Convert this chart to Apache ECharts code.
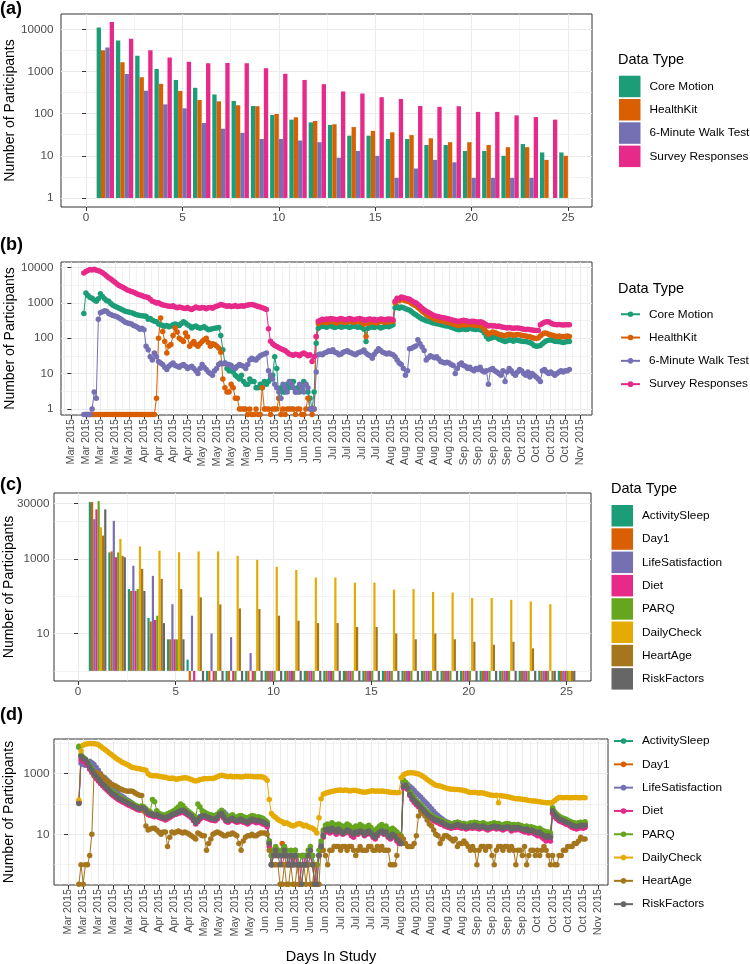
<!DOCTYPE html>
<html>
<head>
<meta charset="utf-8">
<script src="https://cdn.jsdelivr.net/npm/echarts@6.0.0/dist/echarts.min.js"></script>
<style>
html, body { margin: 0; padding: 0; background: #fff; }
#chart { width: 750px; height: 964px; }
</style>
</head>
<body>
<div id="chart"></div>
<script>
// ---------- panel (a): participants per day in study ----------
var aDays = [1, 2, 3, 4, 5, 6, 7, 8, 9, 10, 11, 12, 13, 14, 15, 16, 17, 18, 19, 20, 21, 22, 23, 24, 25];
var aCoreMotion = [11000, 5400, 2350, 1150, 630, 410, 285, 200, 152, 93, 72, 62, 54, 30, 30, 25, 25, 18, 18, 13, 13, 10, 19, 12, 12];
var aHealthKit = [3200, 1660, 730, 510, 345, 211, 196, 158, 150, 98, 82, 67, 56, 48, 39, 36, 31, 26, 21, 21, 18, 16, 16, 8, 10];
var aWalkTest = [3700, 870, 350, 166, 134, 60, 44, 35, 25, 25, 23, 21, 9, 13, 10, 3, 5, 8, 7, 3, 3, 3, 3, null, null];
var aSurvey = [15000, 6000, 3200, 2150, 1700, 1560, 1600, 1560, 1200, 880, 630, 500, 335, 300, 245, 223, 152, 145, 150, 110, 110, 91, 83, 72, null];

// ---------- panel (b): participants per calendar day ----------
// day numbers count from Mon 2 Mar 2015
var bStudyDays = [];
for (var d = 6; d <= 240; d++) bStudyDays.push(d);
var dStudyDays = [];
for (var e = 5; e <= 239; e++) dStudyDays.push(e);

var bCoreMotion = [
  500, 1900, 1600, 1400, 1350, 1200, 1100,
  1300, 1800, 1500, 1300, 1150, 1100, 950,
  850, 800, 750, 700, 660, 620, 580,
  560, 540, 520, 500, 470, 450, 440,
  430, 420, 415, 340, 360, 320, 300,
  290, 250, 240, 230, 218, 230, 210,
  220, 240, 250, 240, 230, 260, 290,
  270, 240, 220, 195, 210, 220, 200,
  190, 200, 210, 190, 174, 180, 185,
  190, 195, 200, 120, 47, 20, 14,
  12, 12, 11, 9, 8, 7, 9,
  6, 5, 5, 7, 6, 6, 4,
  4, 5, 4, 6, 5, 6, 7,
  9, 30, 14, 2, 4, 3, 3,
  5, 4, 6, 6, 3, 4, 3,
  4, 6, 5, 3, 2, 1, 3,
  72, 190, 210, 220, 215, 205, 220,
  225, 210, 200, 215, 220, 205, 210,
  220, 215, 200, 210, 225, 215, 205,
  210, 200, 180, 81, 190, 205, 210,
  200, 215, 210, 195, 205, 215, 220,
  210, 225, 240, 720, 780, 700, 760,
  720, 680, 650, 620, 560, 500, 460,
  415, 380, 350, 330, 310, 300, 285,
  275, 265, 255, 250, 240, 235, 225,
  220, 218, 205, 195, 185, 175, 173,
  180, 185, 175, 180, 190, 185, 180,
  175, 180, 173, 165, 140, 110, 95,
  100, 105, 112, 105, 95, 90, 85,
  81, 85, 90, 88, 82, 91, 88,
  85, 82, 80, 81, 78, 75, 70,
  62, 59, 60, 62, 70, 78, 85,
  88, 91, 86, 82, 80, 81, 78,
  76, 78, 80, 81
];
var bHealthKit = [
  null, 0, 0, 0, 0, 0, 0,
  0, 0, 0, 0, 0, 0, 0,
  0, 0, 0, 0, 0, 0, 0,
  0, 0, 0, 0, 0, 0, 0,
  0, 0, 0, 0, 0, 0, 0,
  2, 100, 370, 155, 81, 38, 60,
  66, 120, 195, 150, 100, 90, 80,
  140, 110, 59, 70, 80, 66, 59,
  70, 80, 90, 100, 75, 59, 70,
  66, 60, 53, 40, 7, 4, 3,
  3, 5, 4, 2, 2, 1, 1,
  1, 1, 0, 1, 0, 0, 1,
  0, 0, 4, 1, 1, 1, 0,
  1, 1, 1, 2, 0, 1, 0,
  1, 1, 1, 1, 0, 1, 1,
  0, 0, 1, 2, 1, 0, 1,
  110, 260, 280, 290, 280, 275, 290,
  300, 290, 280, 270, 290, 300, 285,
  280, 290, 300, 295, 280, 290, 300,
  290, 280, 250, 112, 260, 285, 290,
  280, 270, 285, 295, 290, 280, 285,
  290, 295, 300, 1000, 1200, 1150, 1250,
  1200, 1150, 1100, 1050, 950, 880, 820,
  740, 660, 580, 520, 470, 430, 400,
  370, 350, 330, 320, 310, 300, 290,
  285, 280, 260, 250, 240, 235, 230,
  240, 245, 235, 240, 245, 240, 235,
  230, 235, 225, 215, 180, 150, 130,
  140, 150, 145, 135, 130, 125, 120,
  118, 125, 130, 128, 120, 125, 128,
  125, 120, 118, 115, 112, 110, 105,
  100, 98, 102, 115, 130, 140, 138,
  130, 125, 120, 115, 110, 115, 112,
  110, 112, 115, 112
];
var bWalkTest = [
  0, 0, 0, 0, 1, 3, 2,
  340, 520, 560, 600, 580, 500, 470,
  440, 420, 400, 370, 340, 310, 280,
  270, 260, 250, 230, 218, 200, 180,
  190, 174, 59, 47, 30, 24, 38,
  30, 22, 20, 18, 15, 13, 16,
  18, 20, 17, 16, 15, 17, 18,
  16, 14, 15, 16, 14, 12, 10,
  14, 18, 15, 13, 11, 10, 9,
  12, 14, 18, 20, 19, 20, 18,
  18, 17, 15, 14, 16, 18, 17,
  16, 14, 18, 24, 27, 25, 24,
  28, 32, 34, 36, 38, 12, 9,
  7, 5, 4, 3, 2, 5, 4,
  3, 6, 5, 4, 3, 3, 5,
  4, 3, 5, 4, 1, 1, 1,
  11, 34, 36, 34, 38, 40, 44,
  42, 47, 40, 38, 34, 36, 40,
  42, 44, 40, 38, 36, 34, 38,
  40, 42, 46, 38, 34, 32, 27,
  35, 42, 50, 45, 40, 38, 36,
  38, 36, 34, 30, 24, 20, 18,
  14, 9, 12, 50, 52, 56, 60,
  91, 70, 56, 45, 24, 28, 32,
  30, 28, 30, 26, 22, 21, 20,
  21, 20, 18, 17, 10, 14, 18,
  20, 17, 16, 14, 15, 13, 12,
  14, 13, 15, 12, 11, 12, 5,
  13, 14, 12, 11, 10, 9, 12,
  6, 11, 14, 12, 10, 9, 11,
  13, 12, 10, 9, 11, 8, 10,
  9, 8, 7, 6, 12, 13, 11,
  10, 11, 10, 9, 10, 11, 12,
  11, 12, 12, 13
];
var bSurvey = [
  6900, 7600, 8200, 8700, 8500, 8800, 8300,
  8000, 7600, 7000, 6400, 5700, 5100, 4700,
  4200, 3800, 3400, 3100, 2900, 2700, 2500,
  2300, 2200, 2100, 2000, 1850, 1750, 1650,
  1600, 1500, 1450, 1400, 1250, 1100, 1050,
  980, 1000, 920, 870, 850, 820, 800,
  780, 820, 760, 720, 760, 740, 700,
  690, 740, 680, 650, 700, 760, 720,
  700, 740, 720, 680, 720, 740, 700,
  760, 800, 840, 900, 860, 820, 800,
  820, 780, 800, 840, 780, 800, 820,
  800, 840, 860, 880, 900, 860, 820,
  780, 760, 720, 690, 650, 185, 82,
  70, 62, 58, 54, 50, 47, 45,
  40, 36, 34, 33, 35, 34, 32,
  36, 38, 35, 32, 34, 22, 30,
  112, 300, 320, 340, 330, 350, 340,
  360, 350, 340, 330, 350, 360, 340,
  330, 340, 360, 350, 330, 340, 350,
  360, 340, 330, 320, 340, 350, 330,
  340, 320, 330, 350, 340, 330, 340,
  350, 340, 330, 1100, 1350, 1300, 1450,
  1400, 1350, 1300, 1250, 1150, 1050, 1000,
  900, 800, 700, 640, 580, 540, 500,
  460, 430, 415, 400, 390, 380, 370,
  360, 350, 330, 320, 310, 300, 300,
  310, 320, 310, 300, 290, 300, 300,
  290, 280, 290, 280, 260, 240, 220,
  230, 220, 225, 215, 220, 210, 205,
  200, 195, 200, 195, 190, 195, 195,
  190, 185, 180, 175, 178, 172, 170,
  168, 165, 165, 240, 260, 280, 290,
  290, 270, 250, 245, 240, 245, 240,
  235, 240, 238, 240
];

// ---------- panel (c): survey participants per day in study ----------
var cActivitySleep = [33000, 1480, 155, 26, 7, 2, 0, 0, 0, 0, 0, 0, 0, 0, 0, 0, 0, 0, 0, 0, 0, 0, 0, 0, 0];
var cDay1 = [33000, 1580, 138, 21, 7, 0, 0, 0, 0, 0, 0, 0, 0, 0, 0, 0, 0, 0, 0, 0, 0, 0, 0, 0, 0];
var cLifeSatisfaction = [11500, 10400, 650, 350, 61, 30, 10, 8, 3, 0, 0, 0, 0, 0, 0, 0, 0, 0, 0, 0, 0, 0, 0, 0, 0];
var cDiet = [21000, 1100, 138, 23, 7, 0, 0, 0, 0, 0, 0, 0, 0, 0, 0, 0, 0, 0, 0, 0, 0, 0, 0, 0, 0];
var cPARQ = [35000, 1480, 155, 30, 7, null, 0, 0, 0, 0, 0, 0, 0, 0, 0, 0, 0, 0, 0, 0, 0, 0, 0, 0, 0];
var cDailyCheck = [7000, 3400, 2150, 1650, 1500, 1580, 1580, 1200, 940, 610, 500, 315, 315, 230, 230, 150, 155, 130, 125, 89, 89, 80, 72, 61, 0];
var cHeartAge = [4200, 1200, 540, 290, 155, 93, 60, 47, 45, 30, 22, 19, 19, 15, 15, 10, 7, 10, 7, 6, 5, 6, 4, 0, 0];
var cRiskFactors = [21000, 1100, 138, 19, 7, 0, 0, 0, 0, 0, 0, 0, 0, 0, 0, 0, 0, 0, 0, 0, 0, 0, 0, 0, 0];

// ---------- panel (d): survey participants per calendar day ----------
var dActivitySleep = [
  7500, 3900, 3300, 3000, 2400, 1800, 1400,
  1050, 880, 720, 590, 470, 410, 350,
  300, 250, 220, 200, 170, 160, 140,
  130, 120, 110, 104, 95, 86, 80,
  74, 80, 76, 64, 54, 50, 47,
  44, 47, 42, 40, 38, 36, 40,
  42, 46, 50, 54, 58, 62, 64,
  60, 54, 47, 42, 34, 26, 32,
  38, 42, 44, 40, 38, 36, 35,
  34, 38, 48, 54, 40, 32, 30,
  34, 36, 32, 30, 32, 34, 30,
  29, 27, 30, 34, 32, 30, 31,
  29, 28, 26, 22, 5, 1, 3,
  2, 3, 2, 2, 3, 1, 2,
  1, 2, 2, 1, 1, 2, 1,
  2, 1, 2, 2, 0, 1, 2,
  4, 10, 15, 16, 14, 17, 15,
  13, 16, 14, 12, 13, 15, 14,
  12, 11, 13, 12, 14, 13, 11,
  13, 14, 12, 10, 9, 11, 13,
  14, 12, 13, 10, 9, 11, 10,
  8, 7, 6, 560, 470, 360, 230,
  175, 140, 118, 100, 86, 72, 60,
  50, 43, 38, 34, 31, 29, 27,
  25, 23, 21, 20, 19, 20, 21,
  22, 21, 19, 20, 18, 19, 20,
  19, 21, 20, 18, 19, 20, 18,
  17, 18, 19, 20, 18, 19, 18,
  17, 18, 19, 18, 16, 18, 17,
  18, 17, 16, 15, 16, 14, 15,
  14, 13, 12, 13, 11, 10, 9,
  10, 9, 66, 48, 40, 34, 32,
  30, 28, 26, 24, 22, 20, 19,
  20, 21, 20, 22
];
var dDay1 = [
  120, 3700, 3100, 2800, 2200, 1650, 1250,
  980, 800, 660, 540, 440, 380, 320,
  270, 230, 205, 185, 158, 146, 132,
  122, 112, 102, 95, 88, 80, 74,
  68, 74, 70, 58, 50, 47, 44,
  41, 44, 39, 37, 35, 33, 37,
  39, 43, 47, 50, 54, 58, 60,
  56, 50, 44, 39, 31, 24, 29,
  35, 39, 41, 37, 35, 33, 32,
  31, 35, 44, 49, 37, 29, 27,
  31, 33, 29, 27, 29, 31, 27,
  26, 24, 27, 31, 29, 27, 28,
  26, 25, 23, 20, 5, 2, 3,
  2, 3, 2, 5, 2, 1, 2,
  2, 1, 2, 1, 0, 1, 1,
  1, 2, 2, 1, 0, 1, 2,
  4, 9, 14, 15, 13, 16, 14,
  12, 15, 13, 11, 12, 14, 13,
  11, 10, 12, 11, 13, 12, 10,
  12, 13, 11, 9, 8, 10, 12,
  13, 11, 12, 9, 8, 10, 9,
  7, 6, 5, 600, 500, 380, 240,
  180, 145, 120, 100, 85, 70, 58,
  48, 42, 37, 33, 30, 28, 26,
  24, 22, 20, 19, 18, 19, 20,
  21, 20, 18, 19, 17, 18, 19,
  18, 20, 19, 17, 18, 19, 17,
  16, 17, 18, 19, 17, 18, 17,
  16, 17, 18, 17, 15, 17, 16,
  17, 16, 15, 14, 15, 13, 14,
  13, 12, 11, 12, 10, 9, 8,
  9, 8, 70, 50, 42, 36, 33,
  31, 28, 26, 24, 22, 21, 22,
  21, 22, 21, 23
];
var dLifeSatisfaction = [
  110, 2200, 2000, 1900, 2400, 2600, 2300,
  2000, 1600, 1300, 1000, 800, 740, 620,
  520, 450, 360, 290, 230, 200, 180,
  160, 140, 128, 115, 100, 90, 85,
  80, 82, 76, 62, 55, 50, 48,
  45, 44, 42, 40, 38, 36, 40,
  45, 50, 60, 58, 56, 62, 60,
  55, 50, 44, 40, 34, 30, 34,
  38, 42, 44, 42, 40, 38, 36,
  35, 40, 50, 60, 55, 46, 38,
  36, 38, 35, 33, 35, 36, 32,
  30, 28, 32, 36, 34, 32, 33,
  32, 30, 28, 24, 6, 2, 3,
  3, 2, 2, 3, 4, 2, 1,
  2, 1, 3, 2, 1, 1, 1,
  2, 2, 3, 2, 1, 0, 2,
  5, 12, 16, 17, 15, 18, 16,
  14, 17, 15, 13, 14, 16, 15,
  13, 12, 14, 13, 15, 14, 12,
  14, 15, 13, 11, 10, 12, 14,
  15, 13, 14, 11, 10, 12, 11,
  9, 8, 7, 500, 480, 440, 380,
  330, 280, 230, 200, 170, 140, 120,
  100, 85, 70, 58, 48, 42, 36,
  32, 28, 26, 24, 22, 23, 24,
  25, 23, 22, 23, 20, 21, 23,
  22, 24, 23, 21, 22, 23, 21,
  20, 21, 22, 23, 21, 22, 20,
  19, 21, 22, 21, 18, 20, 19,
  20, 19, 18, 17, 18, 16, 17,
  16, 15, 14, 15, 13, 12, 11,
  11, 10, 50, 40, 34, 30, 27,
  26, 24, 22, 21, 19, 18, 17,
  18, 19, 18, 19
];
var dDiet = [
  110, 2900, 2600, 2300, 1900, 1400, 1100,
  850, 700, 580, 480, 400, 340, 290,
  250, 210, 185, 165, 145, 130, 120,
  110, 100, 92, 86, 78, 72, 66,
  62, 66, 62, 52, 45, 42, 40,
  38, 40, 36, 34, 32, 30, 33,
  36, 40, 44, 46, 50, 52, 55,
  50, 45, 40, 35, 28, 22, 26,
  32, 36, 38, 34, 32, 30, 29,
  28, 32, 40, 44, 34, 27, 25,
  28, 30, 27, 25, 26, 28, 25,
  24, 22, 25, 28, 26, 24, 25,
  24, 22, 21, 18, 4, 1, 2,
  2, 3, 2, 1, 2, 3, 1,
  1, 2, 1, 2, 0, 1, 2,
  1, 1, 2, 1, 0, 1, 2,
  3, 8, 12, 13, 11, 14, 12,
  10, 13, 11, 10, 11, 12, 11,
  9, 8, 11, 10, 12, 11, 9,
  10, 11, 10, 8, 7, 9, 11,
  12, 10, 11, 8, 7, 9, 8,
  6, 5, 5, 340, 380, 300, 190,
  140, 115, 95, 82, 70, 58, 48,
  40, 35, 32, 28, 26, 24, 22,
  21, 19, 18, 17, 16, 17, 17,
  18, 17, 16, 17, 15, 16, 17,
  16, 17, 16, 15, 16, 17, 15,
  14, 15, 16, 17, 15, 16, 15,
  14, 15, 16, 15, 13, 15, 14,
  15, 14, 13, 12, 13, 11, 12,
  11, 10, 9, 10, 8, 7, 6,
  7, 6, 50, 38, 32, 28, 26,
  24, 22, 21, 19, 17, 16, 15,
  16, 17, 16, 17
];
var dPARQ = [
  8100, 4200, 3500, 3000, 2500, 1900, 1500,
  1150, 950, 760, 620, 500, 430, 370,
  320, 270, 240, 215, 185, 170, 150,
  140, 130, 120, 112, 100, 92, 85,
  80, 86, 82, 70, 60, 56, 140,
  120, 60, 50, 46, 44, 42, 48,
  52, 56, 60, 70, 80, 100, 90,
  72, 62, 55, 48, 42, 36, 100,
  80, 60, 55, 50, 46, 44, 42,
  42, 46, 55, 62, 50, 40, 38,
  40, 44, 38, 36, 40, 42, 38,
  36, 34, 38, 42, 40, 36, 38,
  36, 34, 30, 26, 6, 2, 3,
  4, 3, 2, 3, 4, 3, 2,
  3, 2, 3, 2, 1, 2, 2,
  2, 3, 4, 2, 1, 1, 3,
  6, 14, 20, 22, 19, 24, 21,
  18, 22, 20, 17, 19, 22, 20,
  17, 16, 19, 18, 21, 19, 15,
  18, 20, 17, 14, 13, 16, 19,
  21, 18, 19, 15, 13, 16, 14,
  12, 10, 9, 620, 520, 400, 260,
  200, 160, 130, 110, 95, 80, 66,
  56, 48, 42, 38, 34, 32, 30,
  28, 26, 24, 23, 22, 23, 24,
  25, 24, 22, 23, 21, 22, 24,
  23, 25, 24, 22, 23, 24, 22,
  21, 22, 23, 24, 22, 23, 21,
  20, 22, 23, 22, 19, 21, 20,
  21, 20, 19, 18, 19, 17, 18,
  17, 16, 15, 16, 14, 13, 12,
  12, 11, 76, 55, 46, 40, 36,
  34, 32, 29, 27, 25, 24, 23,
  24, 25, 24, 26
];
var dDailyCheck = [
  135, 5600, 8700, 9400, 9800, 10000, 10000,
  9800, 9600, 9000, 8000, 7000, 6300, 5600,
  4800, 4300, 3800, 3300, 2950, 2700, 2400,
  2200, 2050, 1900, 1700, 1600, 1550, 1480,
  1450, 1400, 1350, 1300, 1000, 890, 860,
  850, 860, 820, 800, 780, 760, 720,
  690, 720, 700, 660, 680, 700, 720,
  740, 720, 680, 640, 600, 575, 600,
  640, 660, 690, 680, 700, 690, 700,
  740, 800, 850, 890, 860, 820, 800,
  820, 800, 790, 810, 800, 780, 800,
  820, 830, 830, 810, 800, 790, 800,
  790, 780, 720, 610, 140, 49, 40,
  36, 31, 28, 26, 23, 24, 22,
  20, 19, 20, 22, 23, 21, 19,
  20, 18, 17, 16, 14, 11, 35,
  150, 210, 225, 240, 250, 260, 270,
  280, 285, 290, 280, 290, 285, 270,
  275, 285, 280, 270, 260, 250, 245,
  250, 260, 270, 275, 265, 270, 265,
  270, 265, 260, 250, 245, 240, 240,
  235, 240, 740, 900, 1000, 1050, 1070,
  1080, 1060, 1020, 980, 900, 820, 740,
  650, 570, 510, 460, 420, 400, 390,
  370, 350, 330, 320, 310, 305, 300,
  300, 295, 290, 280, 270, 250, 240,
  240, 245, 235, 230, 235, 230, 220,
  210, 200, 195, 190, 195, 110, 190,
  185, 180, 175, 170, 160, 155, 150,
  150, 148, 145, 140, 135, 130, 128,
  125, 125, 122, 118, 115, 112, 110,
  110, 108, 115, 130, 150, 163, 165,
  160, 163, 165, 160, 162, 165, 163,
  160, 162, 163, 160
];
var dHeartAge = [
  0, 1, 0, 1, 1, 2, 10,
  900, 1070, 1050, 950, 800, 650, 580,
  520, 450, 420, 390, 350, 320, 300,
  280, 270, 265, 270, 260, 230, 210,
  195, 190, 59, 19, 14, 15, 16,
  16, 14, 12, 10, 12, 12, 4,
  8, 12, 11, 12, 13, 12, 11,
  12, 11, 10, 9, 8, 7, 11,
  10, 9, 9, 3, 5, 7, 10,
  11, 12, 11, 10, 9, 9, 10,
  10, 11, 10, 9, 5, 3, 6,
  8, 9, 9, 10, 9, 9, 10,
  11, 11, 11, 10, 3, 1, 1,
  1, 1, 0, 0, 1, 0, 0,
  1, 0, 0, 1, 0, 0, 1,
  0, 1, 0, 0, 1, 0, 0,
  4, 3, 2, 1, 3, 3, 4,
  4, 4, 3, 4, 4, 3, 4,
  4, 3, 2, 3, 4, 3, 3,
  3, 4, 4, 3, 3, 4, 3,
  4, 3, 3, 3, 1, 1, 1,
  2, 9, 8, 7, 5, 4, 4,
  4, 5, 9, 40, 59, 50, 40,
  30, 22, 19, 14, 10, 9, 5,
  7, 9, 9, 8, 7, 6, 7,
  4, 5, 5, 6, 5, 4, 3,
  4, 3, 1, 3, 4, 4, 3,
  4, 4, 2, 1, 3, 4, 4,
  3, 4, 4, 3, 4, 3, 1,
  3, 3, 2, 4, 1, 2, 3,
  3, 2, 3, 2, 3, 4, 3,
  2, 1, 2, 1, 1, 2, 2,
  3, 3, 4, 4, 4, 5, 5,
  6, 8, 7, 7
];
var dRiskFactors = [
  105, 3800, 3200, 2900, 2300, 1700, 1300,
  1000, 830, 680, 560, 450, 390, 330,
  280, 235, 210, 190, 160, 150, 135,
  126, 115, 105, 98, 90, 82, 76,
  70, 76, 72, 60, 51, 48, 45,
  42, 45, 40, 38, 36, 34, 38,
  40, 44, 48, 51, 55, 60, 62,
  58, 51, 45, 40, 32, 24, 30,
  36, 40, 42, 38, 36, 34, 33,
  32, 36, 45, 50, 38, 30, 28,
  32, 34, 30, 28, 30, 32, 28,
  27, 25, 28, 32, 30, 28, 29,
  27, 26, 24, 21, 5, 1, 2,
  3, 2, 1, 2, 3, 2, 1,
  2, 1, 2, 1, 1, 0, 1,
  1, 2, 3, 1, 0, 0, 2,
  4, 9, 14, 15, 13, 16, 14,
  12, 15, 13, 11, 12, 14, 13,
  11, 10, 12, 11, 13, 12, 10,
  12, 13, 11, 9, 8, 10, 12,
  13, 11, 12, 9, 8, 10, 9,
  7, 6, 5, 380, 420, 330, 210,
  160, 130, 110, 95, 80, 66, 55,
  46, 40, 36, 32, 30, 28, 26,
  24, 22, 20, 19, 18, 19, 20,
  21, 20, 18, 19, 17, 18, 19,
  18, 20, 19, 17, 18, 19, 17,
  16, 17, 18, 19, 17, 18, 17,
  16, 17, 18, 17, 15, 17, 16,
  17, 16, 15, 14, 15, 13, 14,
  13, 12, 11, 12, 10, 9, 8,
  9, 8, 60, 45, 38, 32, 30,
  28, 26, 24, 22, 20, 19, 18,
  19, 20, 19, 20
];

var dayTicks = [0, 5, 10, 15, 20, 25];
var monthNames = ['Jan', 'Feb', 'Mar', 'Apr', 'May', 'Jun', 'Jul', 'Aug', 'Sep', 'Oct', 'Nov', 'Dec'];

// ---------- styling ----------
var FONT = "'Liberation Sans', Arial, Helvetica, sans-serif";
var GRID_LINE = '#EBEBEB';
var BORDER = '#333333';
var LABEL = '#4D4D4D';
var dark2 = ['#1B9E77', '#D95F02', '#7570B3', '#E7298A', '#66A61E', '#E6AB02', '#A6761D', '#666666'];

// axis ranges (ggplot expansion)
var A_Y = [0.61, 23100], B_Y = [0.676, 14200], C_Y = [0.536, 57700], D_Y = [0.214, 13960];
var A_X = [-1.3, 26.25], C_X = [-1.23, 26.25];
var B_X = [-5.0, 250.9], D_X = [-6.5, 249.6];

// panel boxes
var boxA = { left: 61, top: 14, width: 531, height: 193 };
var boxB = { left: 61, top: 262, width: 531, height: 153 };
var boxC = { left: 54, top: 493, width: 537, height: 188 };
var boxD = { left: 54, top: 739, width: 554, height: 146 };

var weekTicks = [], weekMinor = [];
for (var w = 0; w <= 245; w += 7) { weekTicks.push(w); }
for (var m = -3.5; m < 252; m += 7) { weekMinor.push(m); }
var dayMinor = [2.5, 7.5, 12.5, 17.5, 22.5];
var halfDecades = [Math.pow(10, 0.5), Math.pow(10, 1.5), Math.pow(10, 2.5), Math.pow(10, 3.5), Math.pow(10, 4.5)];

function intLabel(v) { return String(Math.round(v)); }
function dateLabel(v) {
  var dt = new Date(Date.UTC(2015, 2, 2) + v * 86400000);
  return monthNames[dt.getUTCMonth()] + ' ' + dt.getUTCFullYear();
}

// the bars sit on a category axis in an invisible grid laid over the
// band of days 0.5 .. 25.5 of the visible value axis
function barBox(box, range) {
  var pxPerDay = box.width / (range[1] - range[0]);
  return {
    left: box.left + (0.5 - range[0]) * pxPerDay, top: box.top,
    width: 25 * pxPerDay, height: box.height, show: false, outerBoundsMode: 'none'
  };
}

function mainX(grid, range, ticks, fmt, rotate, extra) {
  return Object.assign({
    type: 'value', gridIndex: grid, min: range[0], max: range[1],
    axisLine: { show: false },
    axisTick: { show: true, length: 4, customValues: ticks, lineStyle: { color: BORDER } },
    axisLabel: {
      show: true, customValues: ticks, formatter: fmt, rotate: rotate,
      color: LABEL, fontFamily: FONT, fontSize: rotate ? 10.8 : 11.7, margin: rotate ? 4 : 5
    },
    splitLine: { show: true, lineStyle: { color: GRID_LINE, width: 1.1 } }
  }, extra || {});
}
function minorX(grid, range, ticks) {
  return {
    type: 'value', gridIndex: grid, min: range[0], max: range[1],
    axisLine: { show: false }, axisLabel: { show: false },
    axisTick: { show: false, customValues: ticks },
    splitLine: { show: true, lineStyle: { color: GRID_LINE, width: 0.6 } }
  };
}
function barX(grid) {
  return {
    type: 'category', gridIndex: grid, data: aDays, boundaryGap: true,
    axisLine: { show: false }, axisTick: { show: false }, axisLabel: { show: false },
    splitLine: { show: false }
  };
}
function mainY(grid, range, ticks, gap, margin) {
  return {
    type: 'log', logBase: 10, gridIndex: grid, min: range[0], max: range[1],
    axisLine: { show: false },
    axisTick: { show: true, length: 4, customValues: ticks, lineStyle: { color: BORDER } },
    axisLabel: { show: true, customValues: ticks, formatter: intLabel, color: LABEL, fontFamily: FONT, fontSize: 11.7, margin: margin },
    splitLine: { show: true, lineStyle: { color: GRID_LINE, width: 1.1 } },
    name: 'Number of Participants', nameLocation: 'middle', nameGap: gap, nameRotate: 90,
    nameMoveOverlap: false,
    nameTextStyle: { color: '#000', fontFamily: FONT, fontSize: 14 }
  };
}
function minorY(grid, range, ticks) {
  return {
    type: 'log', logBase: 10, gridIndex: grid, min: range[0], max: range[1],
    axisLine: { show: false }, axisLabel: { show: false },
    axisTick: { show: false, customValues: ticks },
    splitLine: { show: true, lineStyle: { color: GRID_LINE, width: 0.6 } }
  };
}
function barY(grid, range) {
  return {
    type: 'log', logBase: 10, gridIndex: grid, min: range[0], max: range[1],
    axisLine: { show: false }, axisTick: { show: false }, axisLabel: { show: false },
    splitLine: { show: false }
  };
}

function barSeries(name, vals, color, axisIndex, floor) {
  return {
    type: 'bar', name: name, xAxisIndex: axisIndex, yAxisIndex: axisIndex,
    barCategoryGap: '10%', barGap: '0%',
    itemStyle: { color: color },
    data: vals.map(function (v) {
      if (v == null) return '-';
      return v > 0 ? v : floor;
    }),
    emphasis: { disabled: true }, animation: false
  };
}
function lineSeries(name, xs, vals, color, axisIndex, floor) {
  return {
    type: 'line', name: name, xAxisIndex: axisIndex, yAxisIndex: axisIndex,
    symbol: 'circle', symbolSize: 5.5, showSymbol: true,
    lineStyle: { color: color, width: 1 }, itemStyle: { color: color },
    data: xs.map(function (dd, i) {
      var v = vals[i];
      if (v == null) return [dd, null];
      return [dd, v > 0 ? v : floor];
    }),
    emphasis: { disabled: true }, animation: false
  };
}

function legendBox(names, left, top, square) {
  return {
    orient: 'vertical', left: left, top: top, padding: 0, selectedMode: false,
    itemWidth: square ? 21.5 : 19, itemHeight: square ? 21.5 : 7,
    itemGap: 1.8, icon: square ? 'rect' : undefined,
    data: names,
    textStyle: { color: '#000', fontFamily: FONT, fontSize: 11.8, lineHeight: 21.5, padding: [0, 0, 0, 4] }
  };
}

var aNames = ['Core Motion', 'HealthKit', '6-Minute Walk Test', 'Survey Responses'];
// the line panels reuse the names with a trailing space so each legend keeps its own key style
var bNames = aNames.map(function (n) { return n + ' '; });
var cNames = ['ActivitySleep', 'Day1', 'LifeSatisfaction', 'Diet', 'PARQ', 'DailyCheck', 'HeartAge', 'RiskFactors'];
var dNames = cNames.map(function (n) { return n + ' '; });

var aVals = [aCoreMotion, aHealthKit, aWalkTest, aSurvey];
var bVals = [bCoreMotion, bHealthKit, bWalkTest, bSurvey];
var cVals = [cActivitySleep, cDay1, cLifeSatisfaction, cDiet, cPARQ, cDailyCheck, cHeartAge, cRiskFactors];
var dVals = [dActivitySleep, dDay1, dLifeSatisfaction, dDiet, dPARQ, dDailyCheck, dHeartAge, dRiskFactors];

var series = [];
aNames.forEach(function (n, i) { series.push(barSeries(n, aVals[i], dark2[i], 8, A_Y[0])); });
bNames.forEach(function (n, i) { series.push(lineSeries(n, bStudyDays, bVals[i], dark2[i], 2, B_Y[0] * 1.03)); });
cNames.forEach(function (n, i) { series.push(barSeries(n, cVals[i], dark2[i], 9, C_Y[0])); });
dNames.forEach(function (n, i) { series.push(lineSeries(n, dStudyDays, dVals[i], dark2[i], 6, D_Y[0] * 1.06)); });

var gridStyle = { show: true, borderColor: BORDER, borderWidth: 1, backgroundColor: '#fff', outerBoundsMode: 'none' };
function titleText(text, left, top, size, bold) {
  return { text: text, left: left, top: top, padding: 0,
    textStyle: { fontFamily: FONT, fontSize: size, fontWeight: bold ? 'bold' : 'normal', color: '#000' } };
}

var option = {
  backgroundColor: '#fff',
  animation: false,
  title: [
    titleText('(a)', 0, 0, 18, true),
    titleText('(b)', 0, 236, 18, true),
    titleText('(c)', 0, 476, 18, true),
    titleText('(d)', 0, 706, 18, true),
    titleText('Data Type', 618, 52, 14.5, false),
    titleText('Data Type', 618, 281, 14.5, false),
    titleText('Data Type', 611, 481, 14.5, false)
  ],
  legend: [
    legendBox(aNames, 619, 75.7, true),
    legendBox(bNames, 620, 303.5, false),
    legendBox(cNames, 611.5, 505, true),
    legendBox(dNames, 613, 730.3, false)
  ],
  grid: [
    Object.assign({}, boxA, gridStyle),
    Object.assign({}, boxB, gridStyle),
    Object.assign({}, boxC, gridStyle),
    Object.assign({}, boxD, gridStyle),
    barBox(boxA, A_X),
    barBox(boxC, C_X)
  ],
  xAxis: [
    mainX(0, A_X, dayTicks, intLabel, 0),
    minorX(0, A_X, dayMinor),
    mainX(1, B_X, weekTicks, dateLabel, 90),
    minorX(1, B_X, weekMinor),
    mainX(2, C_X, dayTicks, intLabel, 0),
    minorX(2, C_X, dayMinor),
    mainX(3, D_X, weekTicks, dateLabel, 90, {
      name: 'Days In Study', nameLocation: 'middle', nameGap: 64, nameMoveOverlap: false,
      nameTextStyle: { color: '#000', fontFamily: FONT, fontSize: 14.5 }
    }),
    minorX(3, D_X, weekMinor),
    barX(4),
    barX(5)
  ],
  yAxis: [
    mainY(0, A_Y, [1, 10, 100, 1000, 10000], 44, 7.5),
    minorY(0, A_Y, halfDecades),
    mainY(1, B_Y, [1, 10, 100, 1000, 10000], 44, 7.5),
    minorY(1, B_Y, halfDecades),
    mainY(2, C_Y, [10, 1000, 30000], 38, 4.5),
    minorY(2, C_Y, [1, 100, 10000]),
    mainY(3, D_Y, [10, 1000], 38, 4.5),
    minorY(3, D_Y, [1, 100, 10000]),
    barY(4, A_Y),
    barY(5, C_Y)
  ],
  series: series
};

var chart = echarts.init(document.getElementById('chart'), null, { renderer: 'canvas' });
chart.setOption(option);
</script>
</body>
</html>
